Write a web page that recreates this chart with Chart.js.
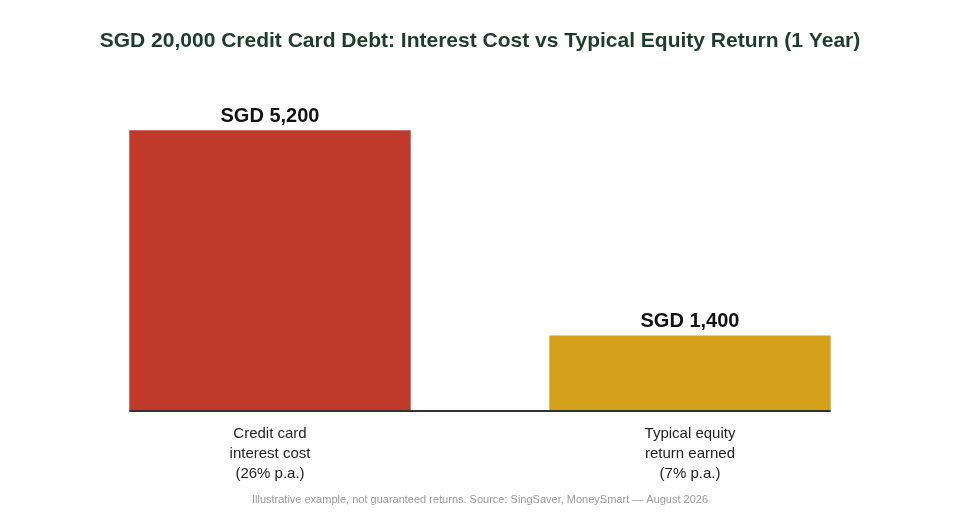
<!DOCTYPE html>
<html>
<head>
<meta charset="utf-8">
<script src="https://cdn.jsdelivr.net/npm/chart.js@4.4.1/dist/chart.umd.min.js"></script>
<style>
  html, body { margin: 0; padding: 0; background: #fff; }
  #wrap { width: 960px; height: 520px; }
</style>
</head>
<body>
<div id="wrap"><canvas id="chartDebt"></canvas></div>
<script>
/* Credit card interest vs equity return — two bar comparison */

const categories = [
    ['Credit card', 'interest cost', '(26% p.a.)'],
    ['Typical equity', 'return earned', '(7% p.a.)']
];
const amountsSGD = [5200, 1400];
const barColors = ['#c0392b', '#d4a01a'];
const valueLabels = ['SGD 5,200', 'SGD 1,400'];

const FONT = '"Liberation Sans", Arial, Helvetica, sans-serif';

// labels above each bar
const valueLabelPlugin = {
    id: 'valueLabels',
    afterDatasetsDraw(chart) {
        const ctx = chart.ctx;
        const meta = chart.getDatasetMeta(0);
        ctx.save();
        ctx.font = 'bold 20px ' + FONT;
        ctx.fillStyle = '#111';
        ctx.textAlign = 'center';
        ctx.textBaseline = 'alphabetic';
        meta.data.forEach((bar, i) => {
            ctx.fillText(valueLabels[i], bar.x, bar.y - 8);
        });
        ctx.restore();
    }
};

// dark baseline running under the bars only
const baselinePlugin = {
    id: 'baseline',
    afterDatasetsDraw(chart) {
        const meta = chart.getDatasetMeta(0);
        const first = meta.data[0], last = meta.data[meta.data.length - 1];
        const y = chart.scales.y.getPixelForValue(0);
        const ctx = chart.ctx;
        ctx.save();
        ctx.strokeStyle = '#333';
        ctx.lineWidth = 2;
        ctx.beginPath();
        ctx.moveTo(first.x - first.width / 2, y);
        ctx.lineTo(last.x + last.width / 2, y);
        ctx.stroke();
        ctx.restore();
    }
};

new Chart(document.getElementById('chartDebt'), {
    type: 'bar',
    data: {
        labels: categories,
        datasets: [{
            data: amountsSGD,
            backgroundColor: barColors,
            borderWidth: 0,
            barPercentage: 1,
            categoryPercentage: 0.67
        }]
    },
    options: {
        responsive: true,
        maintainAspectRatio: false,
        animation: false,
        layout: { padding: { left: 60, right: 60, top: 0, bottom: 0 } },
        plugins: {
            legend: { display: false },
            tooltip: { enabled: false },
            title: {
                display: true,
                text: 'SGD 20,000 Credit Card Debt: Interest Cost vs Typical Equity Return (1 Year)',
                color: '#1d3d2c',
                font: { family: FONT, size: 21, weight: 'bold' },
                padding: { top: 29, bottom: 33 }
            },
            subtitle: {
                display: true,
                position: 'bottom',
                text: 'Illustrative example, not guaranteed returns. Source: SingSaver, MoneySmart \u2014 August 2026',
                color: '#999',
                font: { family: FONT, size: 11 },
                padding: { top: -3, bottom: 13 }
            }
        },
        scales: {
            x: {
                grid: { display: false, drawTicks: false },
                border: { display: false },
                ticks: {
                    color: '#222',
                    padding: 13,
                    maxRotation: 0,
                    font: { family: FONT, size: 15, lineHeight: 1.33 }
                }
            },
            y: {
                display: false,
                min: 0,
                max: 6000
            }
        }
    },
    plugins: [valueLabelPlugin, baselinePlugin]
});
</script>
</body>
</html>
